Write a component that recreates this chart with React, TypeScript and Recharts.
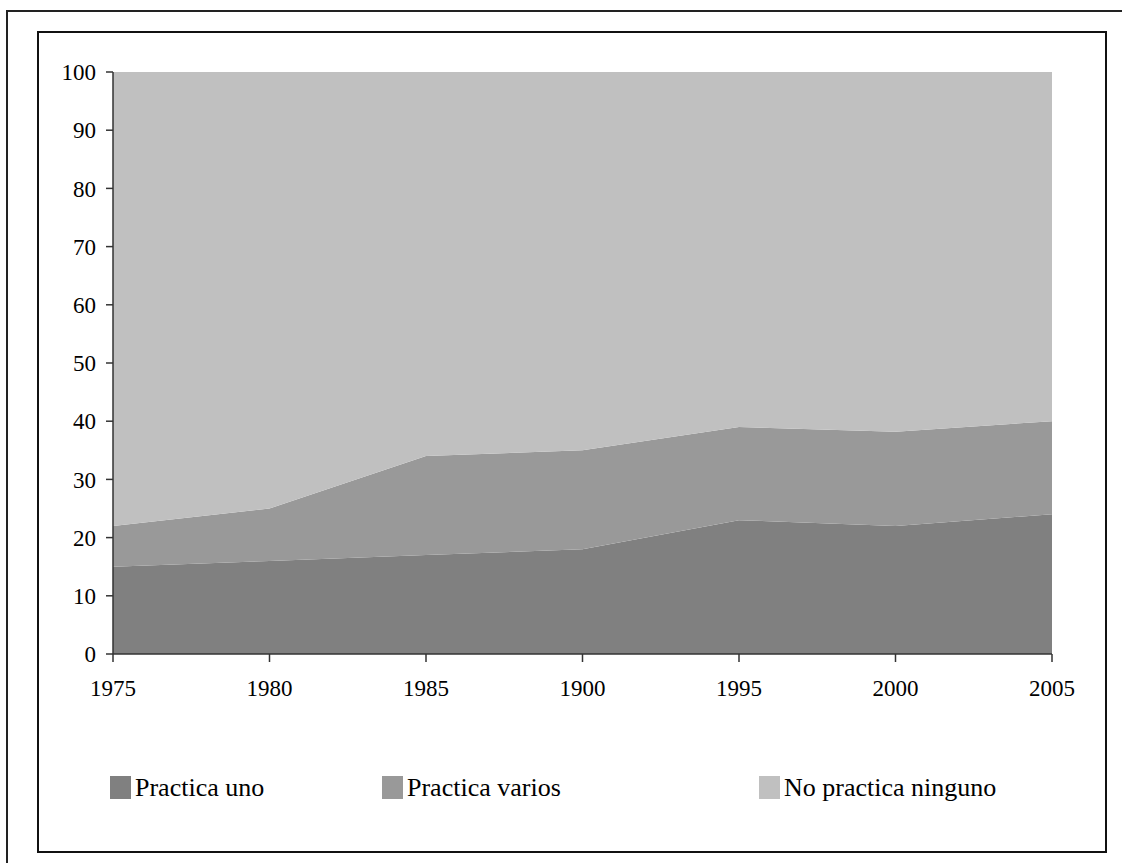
import React from 'react';
import { AreaChart, Area, XAxis, YAxis, Legend } from 'recharts';

const years = ['1975', '1980', '1985', '1900', '1995', '2000', '2005'];
const practicaUno = [15, 16, 17, 18, 23, 22, 24];
const practicaVarios = [7, 9, 17, 17, 16, 16.2, 16];
const noPractica = [78, 75, 66, 65, 61, 61.8, 60];
const yTicks = [0, 10, 20, 30, 40, 50, 60, 70, 80, 90, 100];

const seriesNames = ['Practica uno', 'Practica varios', 'No practica ninguno'];
const seriesKeys = ['uno', 'varios', 'no'];
const seriesColors = ['#808080', '#999999', '#C0C0C0'];

const data = years.map((y, i) => ({
  year: y,
  uno: practicaUno[i],
  varios: practicaVarios[i],
  no: noPractica[i],
}));

const FONT = '"Liberation Serif", "Times New Roman", serif';
const legendX = [110, 382, 759];

const renderLegend = () => (
  <div style={{ position: 'relative', width: 1122, height: 30 }}>
    {seriesNames.map((name, i) => (
      <div key={name} style={{ position: 'absolute', left: legendX[i], top: 0 }}>
        <div style={{ position: 'absolute', left: 0, top: 1, width: 21, height: 23, background: seriesColors[i] }} />
        <span style={{ position: 'absolute', left: 25, top: 0, fontFamily: FONT, fontSize: 26, lineHeight: '26px', color: '#000', whiteSpace: 'nowrap' }}>{name}</span>
      </div>
    ))}
  </div>
);

export default function App() {
  return (
    <div style={{ position: 'absolute', left: 0, top: 0, width: 1122, height: 863, background: '#fff', overflow: 'hidden' }}>
      <div style={{ position: 'absolute', left: 6, top: 10, width: 1130, height: 870, border: '2px solid #222', boxSizing: 'border-box' }} />
      <div style={{ position: 'absolute', left: 37, top: 31, width: 1070, height: 822, border: '2px solid #111', boxSizing: 'border-box' }} />
      <div style={{ position: 'absolute', left: 0, top: 0 }}>
        <AreaChart width={1122} height={863} data={data} margin={{ top: 72, right: 70, bottom: 139, left: 53 }}>
          <XAxis
            dataKey="year"
            tickSize={8}
            tickMargin={18}
            axisLine={{ stroke: '#333', strokeWidth: 1.5 }}
            tickLine={{ stroke: '#333', strokeWidth: 1.5 }}
            tick={{ fontFamily: FONT, fontSize: 23, fill: '#000' }}
            height={40}
            interval={0}
          />
          <YAxis
            domain={[0, 100]}
            ticks={yTicks}
            tickSize={7}
            tickMargin={10}
            width={60}
            axisLine={{ stroke: '#333', strokeWidth: 1.5 }}
            tickLine={{ stroke: '#333', strokeWidth: 1.5 }}
            tick={{ fontFamily: FONT, fontSize: 23, fill: '#000' }}
            interval={0}
          />
          {seriesKeys.map((k, i) => (
            <Area
              key={k}
              type="linear"
              dataKey={k}
              name={seriesNames[i]}
              stackId="1"
              fill={seriesColors[i]}
              fillOpacity={1}
              stroke="none"
              isAnimationActive={false}
            />
          ))}
          <Legend content={renderLegend} wrapperStyle={{ left: 0, top: 775, width: 1122, height: 30 }} />
        </AreaChart>
      </div>
    </div>
  );
}
